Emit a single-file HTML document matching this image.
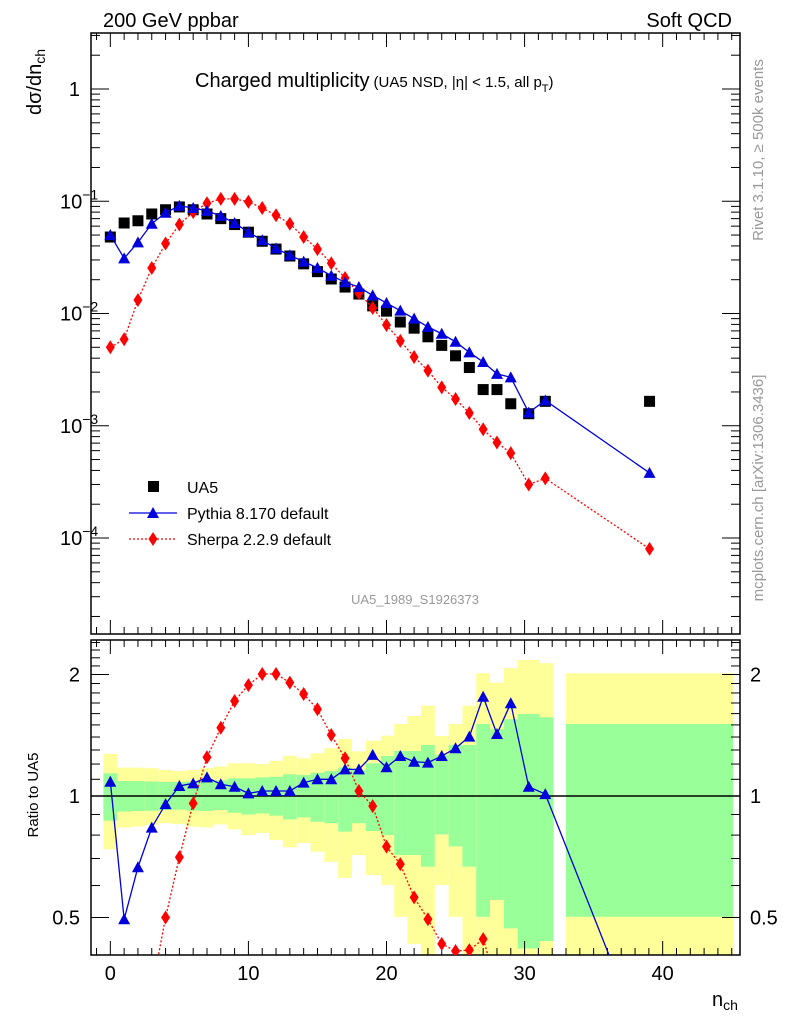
<!DOCTYPE html>
<html><head><meta charset="utf-8"><style>
html,body{margin:0;padding:0;background:#fff;width:786px;height:1024px;overflow:hidden;}
svg{display:block;font-family:"Liberation Sans",sans-serif;}
</style></head><body>
<svg id="c" width="786" height="1024" viewBox="0 0 786 1024">
<text x="103" y="27" font-size="20">200 GeV ppbar</text>
<text x="732" y="27" font-size="20" text-anchor="end">Soft QCD</text>
<text x="195" y="87" font-size="20">Charged multiplicity<tspan font-size="15" dx="4">(UA5 NSD, |η| &lt; 1.5, all p</tspan><tspan font-size="11" dy="5">T</tspan><tspan font-size="15" dy="-5">)</tspan></text>
<text transform="translate(763,150) rotate(-90)" font-size="15" fill="#999" text-anchor="middle">Rivet 3.1.10, ≥ 500k events</text>
<text transform="translate(763,488) rotate(-90)" font-size="15" fill="#999" text-anchor="middle">mcplots.cern.ch [arXiv:1306.3436]</text>
<text transform="translate(41,115) rotate(-90)" font-size="20">dσ/dn<tspan font-size="14" dy="4">ch</tspan></text>
<text transform="translate(38,795) rotate(-90)" font-size="15" text-anchor="middle">Ratio to UA5</text>
<text x="712" y="1006" font-size="20">n<tspan font-size="14" dy="4">ch</tspan></text>
<text x="415" y="604" font-size="13" fill="#999" text-anchor="middle">UA5_1989_S1926373</text>
<g id="main"></g>
<g id="ratio"></g>
</svg>
<script>
const nch=[0,1,2,3,4,5,6,7,8,9,10,11,12,13,14,15,16,17,18,19,20,21,22,23,24,25,26,27,28,29,30.3,31.5,39.05];
const ua5=[0.048,0.064,0.067,0.077,0.084,0.089,0.084,0.077,0.070,0.062,0.053,0.044,0.0375,0.0325,0.0277,0.0236,0.0203,0.0172,0.0149,0.0117,0.0105,0.0084,0.0074,0.0062,0.0052,0.0042,0.0033,0.0021,0.0021,0.00157,0.00128,0.00165,0.00165];
const pythia=[0.050,0.031,0.043,0.063,0.079,0.091,0.087,0.082,0.074,0.064,0.053,0.045,0.038,0.033,0.029,0.0255,0.0217,0.0190,0.0172,0.0145,0.0124,0.0106,0.0090,0.0076,0.0066,0.0056,0.0045,0.0037,0.0029,0.0027,0.00131,0.00168,0.00038];
const sherpa=[0.0050,0.0059,0.0132,0.0254,0.042,0.062,0.080,0.096,0.105,0.105,0.099,0.087,0.075,0.063,0.048,0.0375,0.028,0.0207,0.0152,0.0112,0.0079,0.0057,0.0041,0.0031,0.0022,0.00173,0.00130,0.00093,0.00071,0.00057,0.00030,0.00034,0.000080];
const ratioPythia=[1.085,0.495,0.666,0.835,0.955,1.059,1.075,1.112,1.069,1.054,1.015,1.029,1.029,1.029,1.079,1.10,1.10,1.164,1.164,1.264,1.178,1.256,1.216,1.21,1.256,1.313,1.403,1.762,1.424,1.697,1.054,1.011,0.225];
const ratioSherpa=[0.104,0.092,0.197,0.33,0.5,0.705,0.959,1.247,1.476,1.72,1.883,2.006,2.006,1.909,1.79,1.64,1.416,1.24,1.029,0.944,0.749,0.678,0.561,0.495,0.43,0.413,0.415,0.442,0.34,0.33,0.23,0.2,0.05];
const binLo=[-0.5,0.5,1.5,2.5,3.5,4.5,5.5,6.5,7.5,8.5,9.5,10.5,11.5,12.5,13.5,14.5,15.5,16.5,17.5,18.5,19.6,20.56,21.5,22.5,23.5,24.5,25.5,26.5,27.5,28.5,29.5,31.1,33.0];
const binHi=[0.5,1.5,2.5,3.5,4.5,5.5,6.5,7.5,8.5,9.5,10.5,11.5,12.5,13.5,14.5,15.5,16.5,17.5,18.5,19.6,20.56,21.5,22.5,23.5,24.5,25.5,26.5,27.5,28.5,29.5,31.1,32.1,45.1];
const totUp=[1.271,1.176,1.176,1.172,1.16,1.153,1.16,1.172,1.183,1.205,1.205,1.2,1.223,1.258,1.24,1.276,1.313,1.384,1.29,1.371,1.411,1.508,1.578,1.674,1.408,1.508,1.674,2.014,1.909,2.072,2.173,2.133,2.014];
const totDn=[0.738,0.835,0.84,0.848,0.856,0.852,0.84,0.836,0.85,0.827,0.80,0.81,0.778,0.746,0.765,0.728,0.687,0.627,0.714,0.637,0.602,0.502,0.43,0.35,0.602,0.502,0.35,0.35,0.35,0.35,0.35,0.35,0.35];
const statUp=[1.138,1.089,1.089,1.086,1.083,1.083,1.086,1.09,1.093,1.106,1.106,1.112,1.116,1.132,1.128,1.142,1.153,1.176,1.16,1.205,1.256,1.293,1.293,1.338,1.264,1.338,1.338,1.508,1.463,1.549,1.596,1.567,1.508];
const statDn=[0.869,0.915,0.918,0.919,0.923,0.925,0.92,0.918,0.923,0.909,0.90,0.905,0.894,0.875,0.885,0.863,0.856,0.816,0.856,0.819,0.80,0.714,0.714,0.668,0.803,0.75,0.668,0.502,0.553,0.47,0.419,0.437,0.502];
const mainTicks=[0,-1,-2,-3,-4];
const mainTickLabels=["1","10","10","10","10"];
const mainTickExp=["","−1","−2","−3","−4"];
const ratioTicks=[2,1,0.5];
const ratioTickLabels=["2","1","0.5"];
const xTicks=[0,10,20,30,40];

const NS="http://www.w3.org/2000/svg";
function mk(tag,at,parent){const e=document.createElementNS(NS,tag);for(const k in at)e.setAttribute(k,at[k]);parent.appendChild(e);return e;}
const L=91,R=740,XMIN=-1.4,XMAX=45.6;
const X=v=>L+(v-XMIN)/(XMAX-XMIN)*(R-L);
const MT=33,MB=634,YMT=89,DEC=112.25;
const YM=v=>YMT-DEC*Math.log10(v);
const RT=640,RB=955;
const YR=v=>796-403.6*Math.log10(v);
const main=document.getElementById('main'),ratio=document.getElementById('ratio');

const clip=mk('clipPath',{id:'rc'},ratio);mk('rect',{x:L,y:RT,width:R-L,height:RB-RT},clip);
const bg=mk('g',{'clip-path':'url(#rc)'},ratio);
for(let i=0;i<binLo.length;i++){
  const x1=X(binLo[i]),x2=X(binHi[i]);
  let r=mk('rect',{x:x1,y:YR(totUp[i]),width:x2-x1,height:YR(totDn[i])-YR(totUp[i]),fill:'#ffff99'},bg);
  
  
  r=mk('rect',{x:x1,y:YR(statUp[i]),width:x2-x1,height:YR(statDn[i])-YR(statUp[i]),fill:'#99ff99'},bg);
  
  
}
mk('line',{x1:L,x2:R,y1:YR(1),y2:YR(1),stroke:'#000','stroke-width':1.5},ratio);

function frame(g,top,bot,logY){
  mk('rect',{x:L,y:top,width:R-L,height:bot-top,fill:'none',stroke:'#000','stroke-width':1.5},g);
  for(let v=-1;v<=45;v++){const x=X(v),len=(v%10===0)?14:7;
    mk('line',{x1:x,x2:x,y1:bot,y2:bot-len,stroke:'#000'},g);
    mk('line',{x1:x,x2:x,y1:top,y2:top+len,stroke:'#000'},g);}
  logY.forEach(([y,len])=>{if(y>top&&y<bot){mk('line',{x1:L,x2:L+len,y1:y,y2:y,stroke:'#000'},g);mk('line',{x1:R,x2:R-len,y1:y,y2:y,stroke:'#000'},g);}});
}
const mt=[];
for(let d=-5;d<=0;d++)for(let m=1;m<=9;m++){mt.push([YM(m*Math.pow(10,d)),m===1?18:9]);}
frame(main,MT,MB,mt);
const rt=[];
[0.4,0.5,0.6,0.7,0.8,0.9,1,1.1,1.2,1.3,1.4,1.5,1.6,1.7,1.8,1.9,2,2.1,2.2,2.3,2.4,2.5].forEach(v=>rt.push([YR(v),(v===0.5||v===1||v===2)?18:9]));
frame(ratio,RT,RB,rt);

mainTicks.forEach((p,i)=>{
  const t=mk('text',{x:mainTickExp[i]?60:80,y:YM(Math.pow(10,p))+7,'font-size':20,'text-anchor':mainTickExp[i]?'start':'end'},main);
  
  
  t.textContent=mainTickLabels[i];
  if(mainTickExp[i]){const s=mk('tspan',{'font-size':14,dy:-9},t);s.textContent=mainTickExp[i];}
});
ratioTicks.forEach((v,i)=>{
  let t=mk('text',{x:80,y:YR(v)+7,'font-size':20,'text-anchor':'end'},ratio);
  
  
  t.textContent=ratioTickLabels[i];
  t=mk('text',{x:750,y:YR(v)+7,'font-size':20},ratio);
  
  
  t.textContent=ratioTickLabels[i];
});
xTicks.forEach(v=>{
  const t=mk('text',{x:X(v),y:980,'font-size':20,'text-anchor':'middle'},ratio);
  
  
  t.textContent=v;
});

const mclip=mk('clipPath',{id:'mc'},main);mk('rect',{x:L,y:MT,width:R-L,height:MB-MT},mclip);
function tri(g,x,y,c){return mk('path',{d:`M${x} ${y-6}L${x+6} ${y+5}L${x-6} ${y+5}Z`,fill:c},g);}
function dia(g,x,y,c){return mk('path',{d:`M${x} ${y-7}L${x+4.5} ${y}L${x} ${y+7}L${x-4.5} ${y}Z`,fill:c},g);}
function series(g,vals,fy,color,dash,shape,name,cp){
  const gg=mk('g',{'clip-path':`url(#${cp})`},g);
  const pts=nch.map((x,i)=>X(x)+','+fy(vals[i])).join(' ');
  const pl=mk('polyline',{points:pts,fill:'none',stroke:color,'stroke-width':1.3,'stroke-dasharray':dash},gg);
  
  
  nch.forEach((x,i)=>{const m=shape(gg,X(x),fy(vals[i]),color);
    
    });
}
const ug=mk('g',{'clip-path':'url(#mc)'},main);
nch.forEach((x,i)=>{const r=mk('rect',{x:X(x)-5.5,y:YM(ua5[i])-5.5,width:11,height:11,fill:'#000'},ug);
  
  });
series(main,sherpa,YM,'#ff0000','2,2',dia,'sherpa','mc');
series(main,pythia,YM,'#0000dd','',tri,'pythia','mc');
series(ratio,ratioSherpa,YR,'#ff0000','2,2',dia,'sherpa-ratio','rc');
series(ratio,ratioPythia,YR,'#0000dd','',tri,'pythia-ratio','rc');

const lg=mk('g',{},main);


mk('rect',{x:148,y:481,width:11,height:11,fill:'#000'},lg);
mk('line',{x1:129,x2:177,y1:513,y2:513,stroke:'#0000dd','stroke-width':1.3},lg);tri(lg,153,513,'#0000dd');
mk('line',{x1:129,x2:177,y1:539,y2:539,stroke:'#ff0000','stroke-width':1.3,'stroke-dasharray':'2,2'},lg);dia(lg,153,539,'#ff0000');
[['UA5',493],['Pythia 8.170 default',519],['Sherpa 2.2.9 default',545]].forEach(([s,y])=>{
  const t=mk('text',{x:187,y:y,'font-size':16},lg);
  
  
  t.textContent=s;});
</script>
</body></html>
